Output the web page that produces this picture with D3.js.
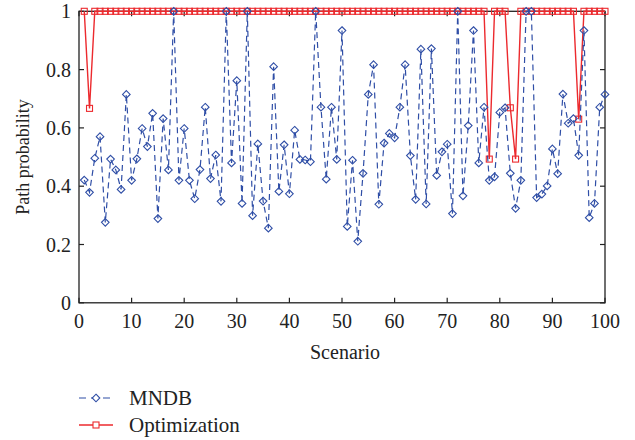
<!DOCTYPE html>
<html>
<head>
<meta charset="utf-8">
<script src="https://cdn.jsdelivr.net/npm/d3@7"></script>
<style>
  body { margin: 0; background: #fff; }
  text { font-family: "Liberation Serif", "DejaVu Serif", serif; fill: #222; }
</style>
</head>
<body>
<div id="chart"></div>
<script>
var width = 635;
var height = 440;

// scenario numbers 1..100
var scenarios = [];
for (var s = 1; s <= 100; s++) scenarios.push(s);

var mndb = [
  0.421, 0.379, 0.496, 0.570, 0.276, 0.493, 0.456, 0.389, 0.715, 0.420,
  0.494, 0.598, 0.536, 0.650, 0.289, 0.632, 0.456, 1.000, 0.420, 0.598,
  0.420, 0.357, 0.457, 0.671, 0.426, 0.507, 0.348, 1.000, 0.480, 0.762,
  0.341, 1.000, 0.299, 0.545, 0.349, 0.256, 0.810, 0.382, 0.542, 0.374,
  0.592, 0.492, 0.490, 0.484, 1.000, 0.671, 0.424, 0.671, 0.492, 0.934,
  0.262, 0.489, 0.211, 0.444, 0.715, 0.817, 0.338, 0.548, 0.581, 0.566,
  0.671, 0.817, 0.505, 0.355, 0.870, 0.339, 0.872, 0.437, 0.518, 0.544,
  0.306, 1.000, 0.367, 0.608, 0.934, 0.480, 0.671, 0.420, 0.432, 0.653,
  0.669, 0.444, 0.324, 0.420, 1.000, 1.000, 0.361, 0.373, 0.401, 0.528,
  0.443, 0.716, 0.616, 0.632, 0.506, 0.934, 0.292, 0.341, 0.671, 0.715
];

var optimization = [
  1, 0.667, 1, 1, 1, 1, 1, 1, 1, 1,
  1, 1, 1, 1, 1, 1, 1, 1, 1, 1,
  1, 1, 1, 1, 1, 1, 1, 1, 1, 1,
  1, 1, 1, 1, 1, 1, 1, 1, 1, 1,
  1, 1, 1, 1, 1, 1, 1, 1, 1, 1,
  1, 1, 1, 1, 1, 1, 1, 1, 1, 1,
  1, 1, 1, 1, 1, 1, 1, 1, 1, 1,
  1, 1, 1, 1, 1, 1, 1, 0.493, 1, 1,
  1, 0.669, 0.493, 1, 1, 1, 1, 1, 1, 1,
  1, 1, 1, 1, 0.630, 1, 1, 1, 1, 1
];

var xTicks = [0, 10, 20, 30, 40, 50, 60, 70, 80, 90, 100];
var yTicks = [0, 0.2, 0.4, 0.6, 0.8, 1];
var seriesNames = ['MNDB', 'Optimization'];

var blue = '#2f4ea6';
var red = '#ec2a2e';

var svg = d3.select('#chart').append('svg').attr('width', width).attr('height', height);

var x = d3.scaleLinear().domain([0, 100]).range([79, 605]);
var y = d3.scaleLinear().domain([0, 1]).range([302.8, 11.3]);

// frame
svg.append('rect')
    .attr('x', x(0)).attr('y', y(1))
    .attr('width', x(100) - x(0)).attr('height', y(0) - y(1))
    .attr('fill', 'none').attr('stroke', '#222').attr('stroke-width', 1.3);

// ticks (inward, on all four sides)
xTicks.forEach(function(t){
    svg.append('line').attr('x1', x(t)).attr('x2', x(t)).attr('y1', y(0)).attr('y2', y(0) - 5)
        .attr('stroke', '#222').attr('stroke-width', 1.2);
    svg.append('line').attr('x1', x(t)).attr('x2', x(t)).attr('y1', y(1)).attr('y2', y(1) + 5)
        .attr('stroke', '#222').attr('stroke-width', 1.2);
    svg.append('text').attr('x', x(t)).attr('y', 328)
        .attr('text-anchor', 'middle').style('font-size', '20px').text(t);
});

yTicks.forEach(function(t){
    svg.append('line').attr('x1', x(0)).attr('x2', x(0) + 5).attr('y1', y(t)).attr('y2', y(t))
        .attr('stroke', '#222').attr('stroke-width', 1.2);
    svg.append('line').attr('x1', x(100)).attr('x2', x(100) - 5).attr('y1', y(t)).attr('y2', y(t))
        .attr('stroke', '#222').attr('stroke-width', 1.2);
    svg.append('text').attr('x', 71).attr('y', y(t) + 7)
        .attr('text-anchor', 'end').style('font-size', '20px').text(t);
});

svg.append('text').attr('x', x(50) + 3).attr('y', 359)
    .attr('text-anchor', 'middle').style('font-size', '20px').text('Scenario');

svg.append('text')
    .attr('transform', 'translate(29,' + ((y(0) + y(1)) / 2) + ') rotate(-90)')
    .attr('text-anchor', 'middle').style('font-size', '18px').text('Path probability');

var line = d3.line()
    .x(function(d, i){ return x(scenarios[i]); })
    .y(function(d){ return y(d); });

// optimization (red, solid, squares)
svg.append('path').datum(optimization)
    .attr('d', line).attr('fill', 'none').attr('stroke', red).attr('stroke-width', 1.4);

svg.selectAll('.sq').data(optimization).enter().append('rect')
    .attr('class', 'sq')
    .attr('x', function(d, i){ return x(scenarios[i]) - 3; })
    .attr('y', function(d){ return y(d) - 3; })
    .attr('width', 6).attr('height', 6)
    .attr('fill', 'none').attr('stroke', red).attr('stroke-width', 1.1);

// MNDB (blue, dashed, diamonds)
svg.append('path').datum(mndb)
    .attr('d', line).attr('fill', 'none').attr('stroke', blue)
    .attr('stroke-width', 1.2).attr('stroke-dasharray', '6,4');

var diamond = function(cx, cy, r){
    return 'M' + cx + ',' + (cy - r) + 'L' + (cx + r) + ',' + cy + 'L' + cx + ',' + (cy + r) + 'L' + (cx - r) + ',' + cy + 'Z';
};

svg.selectAll('.dm').data(mndb).enter().append('path')
    .attr('class', 'dm')
    .attr('d', function(d, i){ return diamond(x(scenarios[i]), y(d), 3.8); })
    .attr('fill', 'none').attr('stroke', blue).attr('stroke-width', 1.1);

// legend
var lg = [398, 425];
svg.append('line').attr('x1', 79).attr('x2', 113).attr('y1', lg[0]).attr('y2', lg[0])
    .attr('stroke', blue).attr('stroke-width', 1.2).attr('stroke-dasharray', '7,5');
svg.append('path').attr('d', diamond(96, lg[0], 3.8))
    .attr('fill', '#fff').attr('stroke', blue).attr('stroke-width', 1.1);
svg.append('line').attr('x1', 79).attr('x2', 113).attr('y1', lg[1]).attr('y2', lg[1])
    .attr('stroke', red).attr('stroke-width', 1.4);
svg.append('rect').attr('x', 93).attr('y', lg[1] - 3).attr('width', 6).attr('height', 6)
    .attr('fill', '#fff').attr('stroke', red).attr('stroke-width', 1.1);

seriesNames.forEach(function(n, i){
    svg.append('text').attr('x', 129).attr('y', [405, 432][i])
        .style('font-size', '21px').text(n);
});
</script>
</body>
</html>
